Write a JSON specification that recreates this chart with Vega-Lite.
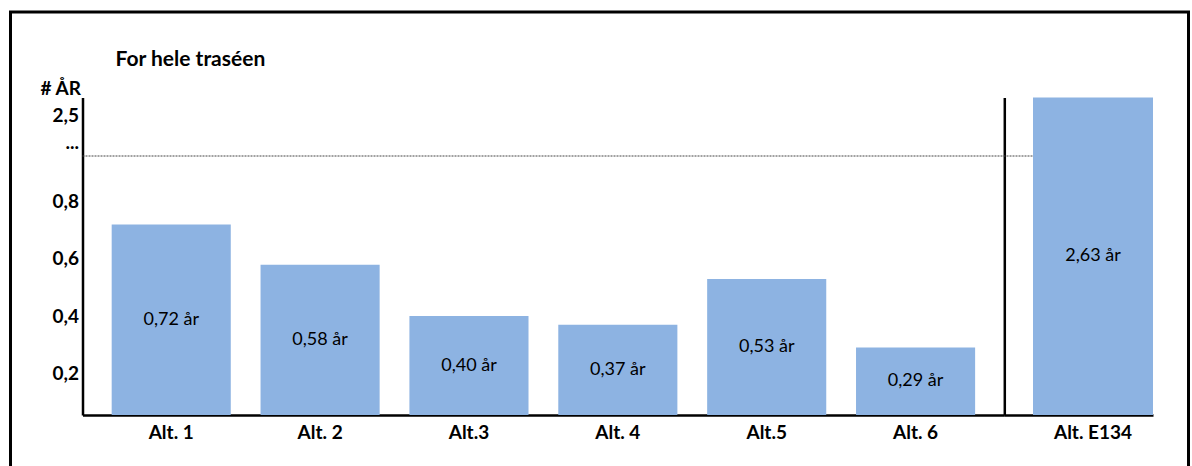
{
  "$schema": "https://vega.github.io/schema/vega-lite/v6.json",
  "width": 1178,
  "height": 458,
  "autosize": {"type": "none"},
  "padding": {"left": 10.5, "top": 12, "right": 3.5, "bottom": 0},
  "background": "white",
  "title": {
    "text": "For hele traséen",
    "anchor": "start",
    "frame": "group",
    "orient": "top",
    "offset": -75,
    "dx": 105,
    "baseline": "alphabetic",
    "font": "Lato",
    "fontSize": 21,
    "fontWeight": "bold",
    "color": "black"
  },
  "config": {
    "view": {"stroke": "black", "strokeWidth": 3},
    "font": "Lato",
    "axis": {
      "domainColor": "black",
      "domainWidth": 2.5,
      "ticks": false,
      "tickSize": 0,
      "grid": false,
      "labelFont": "Lato",
      "labelFontSize": 19,
      "labelFontWeight": "bold",
      "labelColor": "black",
      "titleFont": "Lato",
      "titleFontSize": 19,
      "titleFontWeight": "bold",
      "titleColor": "black"
    }
  },
  "datasets": {
    "venstre": [
      {"alternativ": "Alt. 1", "aar": 0.72, "etikett": "0,72 år"},
      {"alternativ": "Alt. 2", "aar": 0.58, "etikett": "0,58 år"},
      {"alternativ": "Alt.3", "aar": 0.40, "etikett": "0,40 år"},
      {"alternativ": "Alt. 4", "aar": 0.37, "etikett": "0,37 år"},
      {"alternativ": "Alt.5", "aar": 0.53, "etikett": "0,53 år"},
      {"alternativ": "Alt. 6", "aar": 0.29, "etikett": "0,29 år"}
    ],
    "e134": [
      {"alternativ": "Alt. E134", "aar": 2.63, "etikett": "2,63 år"}
    ]
  },
  "layer": [
    {
      "data": {"values": [{}]},
      "mark": {"type": "rule", "color": "#444444", "strokeWidth": 1, "strokeDash": [2, 1]},
      "encoding": {
        "x": {"datum": 0, "type": "quantitative", "scale": {"domain": [0, 1], "range": [72, 1022.5], "nice": false, "zero": false}, "axis": null},
        "x2": {"datum": 1},
        "y": {"datum": 0.96, "type": "quantitative", "scale": {"type": "linear", "domain": [0.054, 0.96, 2.5, 2.63], "range": [403, 144, 103, 85.5], "clamp": true, "nice": false, "zero": false}, "axis": null}
      }
    },
    {
      "data": {"name": "venstre"},
      "mark": {"type": "bar", "color": "#8DB3E2"},
      "encoding": {
        "x": {
          "field": "alternativ",
          "type": "nominal",
          "sort": null,
          "scale": {"type": "band", "domain": ["Alt. 1", "Alt. 2", "Alt.3", "Alt. 4", "Alt.5", "Alt. 6"], "range": [72, 993.8], "paddingInner": 0.2, "paddingOuter": 0.196},
          "axis": {"orient": "bottom", "offset": -55, "title": null, "labelAngle": 0, "labelPadding": 23, "labelBaseline": "alphabetic"}
        },
        "y": {
          "field": "aar",
          "type": "quantitative",
          "scale": {"type": "linear", "domain": [0.054, 0.96, 2.5, 2.63], "range": [403, 144, 103, 85.5], "clamp": true, "nice": false, "zero": false},
          "axis": {
            "orient": "left",
            "offset": -72,
            "values": [0.2, 0.4, 0.6, 0.8, 1.45, 2.5],
            "labelExpr": "datum.value > 1 && datum.value < 2 ? '...' : replace(format(datum.value, '.1f'), '.', ',')",
            "labelPadding": 4,
            "title": "# ÅR",
            "titleAngle": 0,
            "titleAlign": "right",
            "titleBaseline": "middle",
            "titleX": -2,
            "titleY": 76
          }
        },
        "y2": {"datum": 0}
      }
    },
    {
      "data": {"name": "e134"},
      "mark": {"type": "bar", "color": "#8DB3E2"},
      "encoding": {
        "x": {
          "field": "alternativ",
          "type": "nominal",
          "scale": {"type": "band", "domain": ["Alt. E134"], "range": [993.8, 1142.5], "paddingInner": 0, "paddingOuter": 0.1196, "align": 1},
          "axis": {"orient": "bottom", "offset": -55, "title": null, "labelAngle": 0, "labelPadding": 23, "labelBaseline": "alphabetic"}
        },
        "y": {
          "field": "aar",
          "type": "quantitative",
          "scale": {"type": "linear", "domain": [0.054, 0.96, 2.5, 2.63], "range": [403, 144, 103, 85.5], "clamp": true, "nice": false, "zero": false},
          "axis": {"orient": "left", "offset": -993.8, "labels": false, "title": null}
        },
        "y2": {"datum": 0}
      }
    },
    {
      "data": {"name": "venstre"},
      "mark": {"type": "text", "font": "Lato", "fontSize": 18, "color": "black", "align": "center", "baseline": "middle"},
      "encoding": {
        "x": {
          "field": "alternativ",
          "type": "nominal",
          "sort": null,
          "scale": {"type": "band", "domain": ["Alt. 1", "Alt. 2", "Alt.3", "Alt. 4", "Alt.5", "Alt. 6"], "range": [72, 993.8], "paddingInner": 0.2, "paddingOuter": 0.196},
          "axis": null
        },
        "y": {
          "field": "aar",
          "type": "quantitative",
          "scale": {"type": "linear", "domain": [0.054, 0.96, 2.5, 2.63], "range": [403, 273.5, 253, 244.25], "clamp": true, "nice": false, "zero": false},
          "axis": null
        },
        "text": {"field": "etikett"}
      }
    },
    {
      "data": {"name": "e134"},
      "mark": {"type": "text", "font": "Lato", "fontSize": 18, "color": "black", "align": "center", "baseline": "middle"},
      "encoding": {
        "x": {
          "field": "alternativ",
          "type": "nominal",
          "scale": {"type": "band", "domain": ["Alt. E134"], "range": [993.8, 1142.5], "paddingInner": 0, "paddingOuter": 0.1196, "align": 1},
          "axis": null
        },
        "y": {
          "field": "aar",
          "type": "quantitative",
          "scale": {"type": "linear", "domain": [0.054, 0.96, 2.5, 2.63], "range": [403, 273.5, 253, 244.25], "clamp": true, "nice": false, "zero": false},
          "axis": null
        },
        "text": {"field": "etikett"}
      }
    }
  ],
  "resolve": {
    "scale": {"x": "independent", "y": "independent"},
    "axis": {"x": "independent", "y": "independent"}
  }
}
